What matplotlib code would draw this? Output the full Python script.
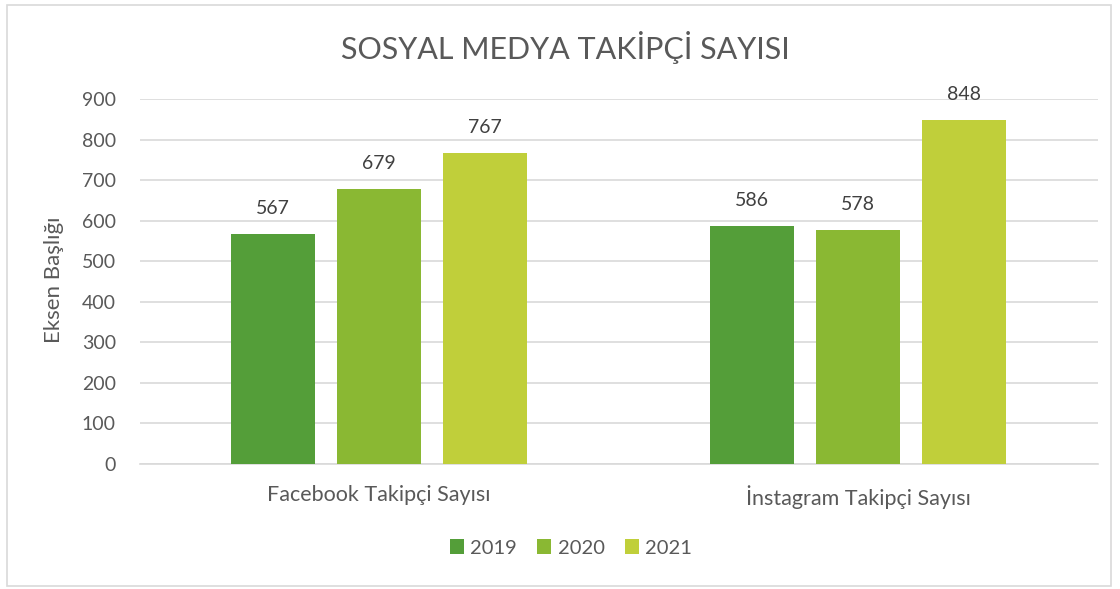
import matplotlib
matplotlib.use("Agg")
import matplotlib.pyplot as plt
import numpy as np
from matplotlib.patches import Rectangle

categories = ["Facebook Takipçi Sayısı", "İnstagram Takipçi Sayısı"]
series_names = ["2019", "2020", "2021"]
values_2019 = [567, 586]
values_2020 = [679, 578]
values_2021 = [767, 848]
colors = ["#549E39", "#8AB833", "#C0CF3A"]

plt.rcParams['font.family'] = ['Lato', 'DejaVu Sans']
text_color = "#595959"

fig = plt.figure(figsize=(11.2, 5.89), dpi=100)
ax = fig.add_axes([139.5/1120, 1-464/589, (1098-139.5)/1120, (464-99)/589])

x = np.arange(len(categories))
width = 0.1754
step = 0.2213
all_vals = [values_2019, values_2020, values_2021]
for i, (name, vals, c) in enumerate(zip(series_names, all_vals, colors)):
    pos = x + (i - 1) * step
    bars = ax.bar(pos, vals, width=width, color=c, label=name, zorder=3)
    for b, v in zip(bars, vals):
        ax.annotate(str(v), (b.get_x() + b.get_width()/2, v), xytext=(0, 17),
                    textcoords='offset pixels', ha='center', va='bottom',
                    fontsize=14, color="#404040")

ax.set_xlim(-0.5, 1.5)
ax.set_ylim(0, 900)
ax.set_yticks(range(0, 901, 100))
ax.yaxis.grid(True, color="#D9D9D9", linewidth=1.2, zorder=0)
ax.set_axisbelow(True)
for s in ["top", "right", "left"]:
    ax.spines[s].set_visible(False)
ax.spines["bottom"].set_color("#D9D9D9")
ax.spines["bottom"].set_linewidth(1.2)
ax.tick_params(axis='y', length=0, labelsize=14, colors=text_color, pad=17)
ax.set_xticks(x)
ax.set_xticklabels(categories, fontsize=15.5, color=text_color)
ax.tick_params(axis='x', length=0, colors=text_color, pad=15)
ax.set_ylabel("Eksen Başlığı", fontsize=16, color=text_color)
ax.yaxis.set_label_coords((64 - 139.5) / 958.5, (464 - 280) / 365)

fig.text(0.505, 1-47/589, "SOSYAL MEDYA TAKİPÇİ SAYISI", ha='center', va='center',
         fontsize=22, color=text_color)

leg = fig.legend(loc='center', bbox_to_anchor=(571/1120, 1-548/589), ncol=3, frameon=False,
                 fontsize=14.5, handlelength=0.7, handleheight=0.7, columnspacing=1.0,
                 handletextpad=0.3)
for t in leg.get_texts():
    t.set_color(text_color)

fig.patches.append(Rectangle((7/1120, 3/589), (1111-7)/1120, (584-3)/589,
                             transform=fig.transFigure, fill=False,
                             edgecolor="#D9D9D9", linewidth=1.2))

fig.savefig("out.png", dpi=100, facecolor="white")
